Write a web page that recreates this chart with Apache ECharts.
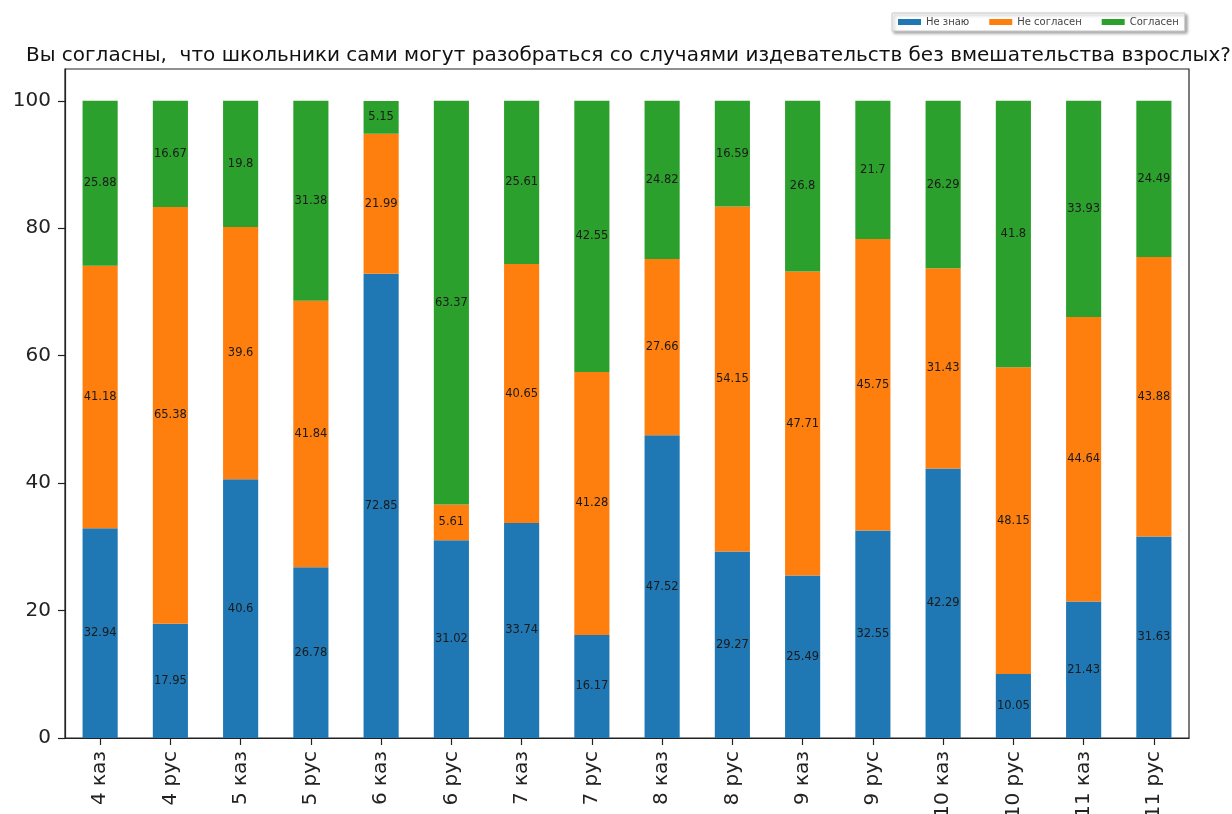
<!DOCTYPE html>
<html>
<head>
<meta charset="utf-8">
<script src="https://cdn.jsdelivr.net/npm/echarts@6/dist/echarts.min.js"></script>
<style>
html,body{margin:0;padding:0;background:#fff;}
#chart{width:1232px;height:814px;}
</style>
</head>
<body>
<div id="chart"></div>
<script>
const categories = ['4 каз','4 рус','5 каз','5 рус','6 каз','6 рус','7 каз','7 рус','8 каз','8 рус','9 каз','9 рус','10 каз','10 рус','11 каз','11 рус'];
const dontKnow = [32.94,17.95,40.6,26.78,72.85,31.02,33.74,16.17,47.52,29.27,25.49,32.55,42.29,10.05,21.43,31.63];
const disagree = [41.18,65.38,39.6,41.84,21.99,5.61,40.65,41.28,27.66,54.15,47.71,45.75,31.43,48.15,44.64,43.88];
const agree = [25.88,16.67,19.8,31.38,5.15,63.37,25.61,42.55,24.82,16.59,26.8,21.7,26.29,41.8,33.93,24.49];
const yTicks = [0,20,40,60,80,100];
const seriesNames = ['Не знаю','Не согласен','Согласен'];
const titleText = 'Вы согласны,  что школьники сами могут разобраться со случаями издевательств без вмешательства взрослых?';

const FONT = 'DejaVu Sans';
const chart = echarts.init(document.getElementById('chart'));
function mk(name, data, color){
  return {
    name: name, type: 'bar', stack: 'total', data: data, barWidth: '50%',
    itemStyle: {color: color},
    label: {show: true, position: 'inside', fontFamily: FONT, fontSize: 11.5, color: '#1a1a1a',
            formatter: p => String(p.value)},
    emphasis: {disabled: true}
  };
}
chart.setOption({
  animation: false,
  backgroundColor: '#fff',
  title: {
    text: titleText, left: 21, top: 41,
    textStyle: {fontFamily: FONT, fontSize: 20, fontWeight: 'normal', color: '#111'}
  },
  legend: {
    data: seriesNames, left: 892, top: 13, icon: 'rect',
    itemWidth: 23, itemHeight: 6, itemGap: 20, padding: [4, 6],
    backgroundColor: '#fff', borderColor: '#ccc', borderWidth: 1,
    shadowBlur: 3, shadowColor: 'rgba(0,0,0,0.35)', shadowOffsetX: 2, shadowOffsetY: 2,
    textStyle: {fontFamily: FONT, fontSize: 10, color: '#444'}
  },
  grid: {left: 65, right: 43, top: 69, bottom: 76, outerBoundsMode: 'none', containLabel: false,
         show: true, borderColor: '#222', borderWidth: 1.2, backgroundColor: 'transparent'},
  xAxis: {
    type: 'category', data: categories, boundaryGap: true,
    axisLine: {show: true, lineStyle: {color: '#222', width: 1.2}},
    axisTick: {show: true, alignWithLabel: true, length: 7, lineStyle: {color: '#222', width: 1.2}},
    axisLabel: {rotate: 90, margin: 13, fontFamily: FONT, fontSize: 20, color: '#222', interval: 0}
  },
  yAxis: {
    type: 'value', min: 0, max: 105,
    splitLine: {show: false},
    axisLine: {show: true, lineStyle: {color: '#222', width: 1.2}},
    axisTick: {show: true, length: 7, lineStyle: {color: '#222', width: 1.2}, customValues: yTicks},
    axisLabel: {fontFamily: FONT, fontSize: 20, color: '#222', margin: 14, customValues: yTicks}
  },
  series: [
    mk(seriesNames[0], dontKnow, '#1f77b4'),
    mk(seriesNames[1], disagree, '#ff7f0e'),
    mk(seriesNames[2], agree, '#2ca02c')
  ]
});
</script>
</body>
</html>
